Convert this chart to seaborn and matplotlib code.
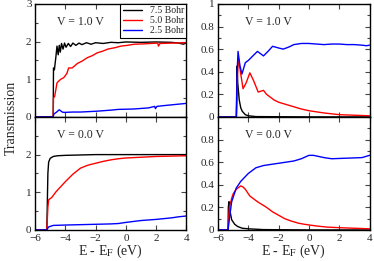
import numpy as np
import pandas as pd
import seaborn as sns
import matplotlib.pyplot as plt
from matplotlib.ticker import MultipleLocator, FormatStrFormatter

# ---- data (energy in eV, transmission) ----
labels = ['7.5 Bohr', '5.0 Bohr', '2.5 Bohr']
colors = ['black', 'red', 'blue']

# V = 1.0 V, left panel
e_tl_black = [-6, -4.8, -4.78, -4.72, -4.62, -4.55, -4.47, -4.4, -4.33, -4.25, -4.15, -4.05, -3.95,
              -3.8, -3.65, -3.5, -3.3, -3.1, -2.9, -2.6, -2.3, -2.0, -1.5, -1.0, -0.5, 0, 1, 2, 3, 3.5, 3.8, 4]
t_tl_black = [0, 0, 1.3, 1.25, 1.6, 1.88, 1.65, 1.9, 1.72, 1.95, 1.8, 1.96, 1.85,
              1.95, 1.87, 1.96, 1.9, 1.96, 1.92, 1.97, 1.93, 1.97, 1.95, 1.98, 1.97, 1.99, 1.98, 1.99, 1.98, 1.96, 1.93, 1.97]
e_tl_red = [-6, -4.8, -4.78, -4.7, -4.55, -4.44, -4.3, -4.11, -3.9, -3.78, -3.55, -3.4, -3.2, -2.9,
            -2.56, -2.2, -1.9, -1.5, -1.2, -0.7, -0.33, 0.1, 0.55, 1.2, 2.1, 2.15, 2.25, 3, 4]
t_tl_red = [0, 0, 0.5, 0.55, 0.9, 0.95, 1.0, 1.04, 1.15, 1.3, 1.3, 1.35, 1.42, 1.48,
            1.57, 1.63, 1.7, 1.75, 1.8, 1.84, 1.88, 1.9, 1.93, 1.94, 1.96, 1.88, 1.95, 1.96, 1.97]
e_tl_blue = [-6, -4.8, -4.75, -4.6, -4.4, -4.2, -4.1, -3.5, -3.0, -2.0, -1.0, -0.5, 0.5, 1.5,
             1.9, 1.95, 2.05, 2.5, 3.0, 3.5, 4]
t_tl_blue = [0, 0, 0.08, 0.12, 0.19, 0.13, 0.12, 0.13, 0.13, 0.15, 0.18, 0.2, 0.21, 0.24,
             0.28, 0.22, 0.28, 0.3, 0.32, 0.34, 0.36]

# V = 0.0 V, left panel
e_bl_black = [-6, -5.22, -5.15, -5.1, -5.0, -4.8, -4.5, -4.0, -3.0, -2.0, 0, 2, 4]
t_bl_black = [0, 0, 1.5, 1.8, 1.9, 1.95, 1.97, 1.98, 1.99, 2.0, 2.0, 2.0, 2.0]
e_bl_red = [-6, -5.22, -5.15, -5.1, -4.9, -4.6, -4.3, -4.0, -3.5, -3.0, -2.5, -2.0, -1.5, -1.0,
            -0.5, 0, 1, 2, 3, 4]
t_bl_red = [0, 0, 0.6, 0.8, 0.86, 1.02, 1.15, 1.28, 1.48, 1.64, 1.72, 1.77, 1.82, 1.86,
            1.89, 1.91, 1.93, 1.95, 1.96, 1.97]
e_bl_blue = [-6, -5.22, -5.15, -5.1, -4.8, -4.0, -3.0, -2.0, -1.0, -0.5, 0, 1, 2, 2.5, 3, 3.5, 4]
t_bl_blue = [0, 0, 0.05, 0.08, 0.12, 0.13, 0.14, 0.15, 0.16, 0.17, 0.2, 0.25, 0.28, 0.3, 0.32, 0.35, 0.37]

# V = 1.0 V, right panel
e_tr_black = [-6, -4.79, -4.75, -4.7, -4.6, -4.5, -4.4, -4.2, -4.0, -3.5, 0, 4]
t_tr_black = [0, 0, 0.45, 0.3, 0.15, 0.08, 0.05, 0.02, 0.01, 0.003, 0, 0]
e_tr_red = [-6, -4.79, -4.72, -4.65, -4.5, -4.35, -4.15, -3.9, -3.65, -3.35, -3.0, -2.8, -2.6,
            -2.3, -2.0, -1.5, -1.0, -0.5, 0, 0.5, 1.0, 2.0, 3.0, 4.0]
t_tr_red = [0, 0, 0.35, 0.52, 0.38, 0.25, 0.3, 0.39, 0.32, 0.22, 0.235, 0.2, 0.18,
            0.15, 0.13, 0.11, 0.09, 0.07, 0.055, 0.045, 0.035, 0.02, 0.015, 0.01]
e_tr_blue = [-6, -4.79, -4.74, -4.68, -4.55, -4.42, -4.2, -4.0, -3.7, -3.4, -3.2, -3.0, -2.7, -2.4,
             -2.0, -1.7, -1.3, -1.0, -0.5, 0, 0.5, 1.0, 1.5, 2.0, 2.5, 3.0, 3.5, 3.8, 4.0]
t_tr_blue = [0, 0, 0.4, 0.58, 0.45, 0.38, 0.48, 0.5, 0.54, 0.58, 0.56, 0.54, 0.58, 0.625,
             0.61, 0.6, 0.62, 0.64, 0.65, 0.65, 0.645, 0.64, 0.645, 0.645, 0.64, 0.64, 0.635, 0.63, 0.635]

# V = 0.0 V, right panel
e_br_black = [-6, -5.34, -5.32, -5.28, -5.2, -5.1, -4.9, -4.7, -4.4, -4.0, -3.0, 0, 4]
t_br_black = [0, 0, 0.2, 0.25, 0.16, 0.09, 0.05, 0.03, 0.015, 0.01, 0.003, 0, 0]
e_br_red = [-6, -5.34, -5.25, -5.1, -5.0, -4.8, -4.6, -4.5, -4.35, -4.2, -3.9, -3.4, -2.8,
            -2.4, -2.0, -1.6, -1.2, -0.7, -0.3, 0.5, 1.2, 2.0, 3.0, 4.0]
t_br_red = [0, 0, 0.2, 0.28, 0.32, 0.36, 0.38, 0.39, 0.38, 0.36, 0.3, 0.25, 0.2,
            0.16, 0.13, 0.1, 0.08, 0.06, 0.05, 0.035, 0.025, 0.02, 0.015, 0.01]
e_br_blue = [-6, -5.34, -5.25, -5.1, -4.8, -4.5, -4.0, -3.5, -3.0, -2.0, -1.0, -0.5, 0, 0.3,
             1.0, 1.5, 2.5, 3.5, 4.0]
t_br_blue = [0, 0, 0.1, 0.25, 0.37, 0.43, 0.5, 0.55, 0.57, 0.59, 0.61, 0.63, 0.66, 0.66,
             0.64, 0.63, 0.635, 0.64, 0.66]

panels = {
    'tl': [(e_tl_black, t_tl_black), (e_tl_red, t_tl_red), (e_tl_blue, t_tl_blue)],
    'bl': [(e_bl_black, t_bl_black), (e_bl_red, t_bl_red), (e_bl_blue, t_bl_blue)],
    'tr': [(e_tr_black, t_tr_black), (e_tr_red, t_tr_red), (e_tr_blue, t_tr_blue)],
    'br': [(e_br_black, t_br_black), (e_br_red, t_br_red), (e_br_blue, t_br_blue)],
}
voltages = {'tl': 'V = 1.0 V', 'tr': 'V = 1.0 V', 'bl': 'V = 0.0 V', 'br': 'V = 0.0 V'}

sns.set_style('ticks')
plt.rcParams['font.family'] = ['Liberation Serif', 'DejaVu Serif']
plt.rcParams['mathtext.fontset'] = 'stix'

fig = plt.figure(figsize=(3.74, 2.61), dpi=100)
w = 0.405
h = 0.433
axes = {
    'tl': fig.add_axes([0.0936, 0.552, w, h]),
    'bl': fig.add_axes([0.0936, 0.119, w, h]),
    'tr': fig.add_axes([0.583, 0.552, w, h]),
    'br': fig.add_axes([0.583, 0.119, w, h]),
}

for key, ax in axes.items():
    for (e, t), col, lab in zip(panels[key], colors, labels):
        df = pd.DataFrame({'E': e, 'T': t})
        sns.lineplot(data=df, x='E', y='T', color=col, lw=1.0, ax=ax,
                     label=lab if key == 'tl' else None, sort=False, estimator=None)

    ax.set_xlim(-6, 4)
    ax.xaxis.set_major_locator(MultipleLocator(2))
    if key in ('tl', 'bl'):
        ymax, step = 3, 1
    else:
        ymax, step = 1, 0.2
    ax.yaxis.set_major_locator(MultipleLocator(step))
    ax.yaxis.set_minor_locator(MultipleLocator(step / 2))
    ax.yaxis.set_major_formatter(FormatStrFormatter('%g'))
    ax.tick_params(which='both', direction='in', top=True, right=True, labelsize=8,
                   width=0.8, color='#444444')
    ax.tick_params(axis='y', pad=2.5)
    ax.tick_params(axis='x', pad=3)
    ax.tick_params(which='major', length=3.5)
    ax.tick_params(which='minor', length=2)
    for s in ax.spines.values():
        s.set_linewidth(1.0)
        s.set_color('black')
    ax.set_xlabel('')
    ax.set_ylabel('')
    ax.text(0.3 if key[1] == 'l' else 0.33, 0.84, voltages[key], transform=ax.transAxes,
            ha='center', va='center', fontsize=8.5)
    if key[0] == 't':
        ax.tick_params(labelbottom=False)
    else:
        # the top tick label is left to the panel above
        ax.yaxis.set_major_formatter(
            plt.FuncFormatter(lambda v, p, m=ymax: '' if abs(v - m) < 1e-9 else '%g' % v))
        ax.set_xlabel(r'E - E$_\mathrm{F}$ (eV)', fontsize=10, labelpad=0)
    ax.set_ylim(0, ymax)

axes['tl'].legend(loc='upper right', frameon=True, fancybox=False, edgecolor='black',
                  fontsize=7, handlelength=2.0, borderpad=0.25, labelspacing=0.1,
                  handletextpad=0.8, borderaxespad=0.0, framealpha=1)
axes['tl'].get_legend().get_frame().set_linewidth(0.8)

fig.text(0.03, 0.55, 'Transmission', rotation=90, ha='center', va='center', fontsize=10)

fig.savefig('out.png', dpi=100)
